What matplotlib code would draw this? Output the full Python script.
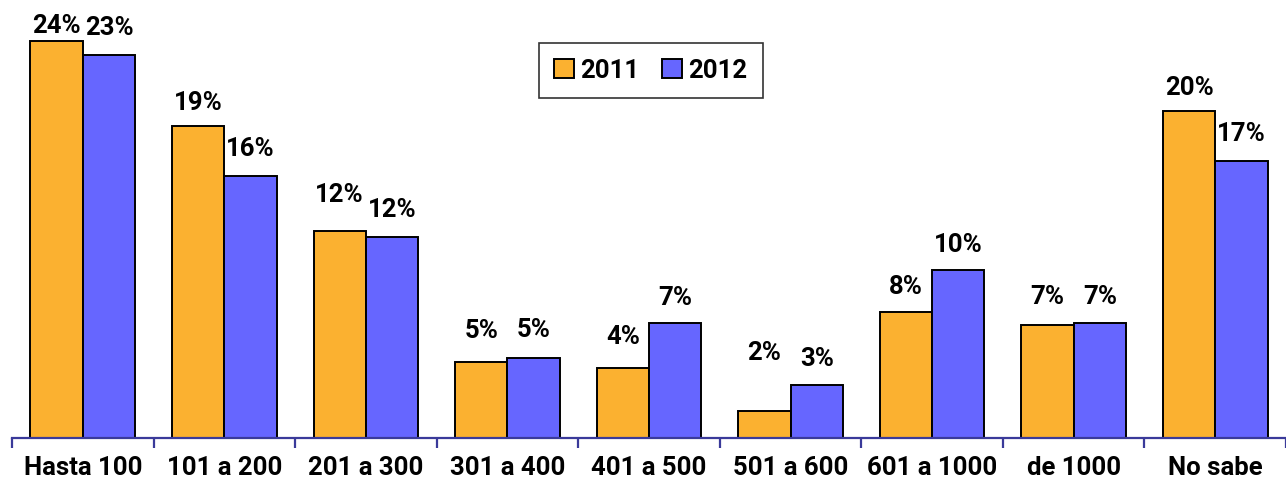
import numpy as np
import matplotlib.pyplot as plt
from matplotlib.patches import Patch

categories = ["Hasta 100", "101 a 200", "201 a 300", "301 a 400", "401 a 500",
              "501 a 600", "601 a 1000", "de 1000", "No sabe"]
values_2011 = [23.9, 18.8, 12.5, 4.6, 4.2, 1.6, 7.6, 6.8, 19.7]
values_2012 = [23.1, 15.8, 12.1, 4.8, 6.9, 3.2, 10.1, 6.9, 16.7]
labels_2011 = ["24%", "19%", "12%", "5%", "4%", "2%", "8%", "7%", "20%"]
labels_2012 = ["23%", "16%", "12%", "5%", "7%", "3%", "10%", "7%", "17%"]

# extra label lift (points) where the original labels were moved by hand
lift_2011 = [-8, -3, 6, 3, 3, 23, -1.5, 1, -3]
lift_2012 = [0, 0, 0, 1, -1, -1, -1, 0, 0]

orange = "#FBB130"
blue = "#6666FF"
navy = "#3A3A9A"
font = ["Roboto", "DejaVu Sans"]
fs = 18.5

fig = plt.figure(figsize=(12.86, 4.89), dpi=100)
ax = fig.add_axes([12 / 1286, 50 / 489, 1274 / 1286, 439 / 489])

x = np.arange(len(categories))
w = 0.37
b1 = ax.bar(x - w / 2, values_2011, w, color=orange, edgecolor="black", linewidth=1.4, zorder=2)
b2 = ax.bar(x + w / 2, values_2012, w, color=blue, edgecolor="black", linewidth=1.4, zorder=2)

for bars, labs, lifts in ((b1, labels_2011, lift_2011), (b2, labels_2012, lift_2012)):
    for r, lab, lf in zip(bars, labs, lifts):
        ax.annotate(lab, (r.get_x() + r.get_width() / 2, r.get_height()),
                    xytext=(0, 20 + lf), textcoords="offset points",
                    ha="center", va="center", fontsize=fs, fontweight="bold",
                    family=font, annotation_clip=False)

ax.set_xlim(-0.5, -0.5 + 1274 / 143.3)
ax.set_ylim(0, 26.45)

for s in ("left", "right", "top"):
    ax.spines[s].set_visible(False)
ax.spines["bottom"].set_color(navy)
ax.spines["bottom"].set_linewidth(1.6)
ax.spines["bottom"].set_zorder(3)

ax.set_yticks([])
ax.set_xticks(np.arange(len(categories) + 1) - 0.5)
ax.set_xticklabels([])
ax.tick_params(axis="x", which="major", direction="out", length=7, width=1.6, color=navy)
ax.set_xticks(x, minor=True)
ax.set_xticklabels(categories, minor=True, fontsize=fs, fontweight="bold", family=font)
ax.tick_params(axis="x", which="minor", length=0, pad=12)

handles = [Patch(facecolor=orange, edgecolor="black", linewidth=1.4, label="2011"),
           Patch(facecolor=blue, edgecolor="black", linewidth=1.4, label="2012")]
leg = ax.legend(handles=handles, ncol=2, loc="upper left", bbox_to_anchor=(527 / 1274, 1 - 44 / 439),
                borderaxespad=0, frameon=True, fancybox=False, edgecolor="black",
                handlelength=0.75, handleheight=0.75, handletextpad=0.25, columnspacing=0.9,
                borderpad=0.6, prop={"family": font, "weight": "bold", "size": fs})
leg.get_frame().set_linewidth(1.2)

fig.savefig("out.png", dpi=100)
